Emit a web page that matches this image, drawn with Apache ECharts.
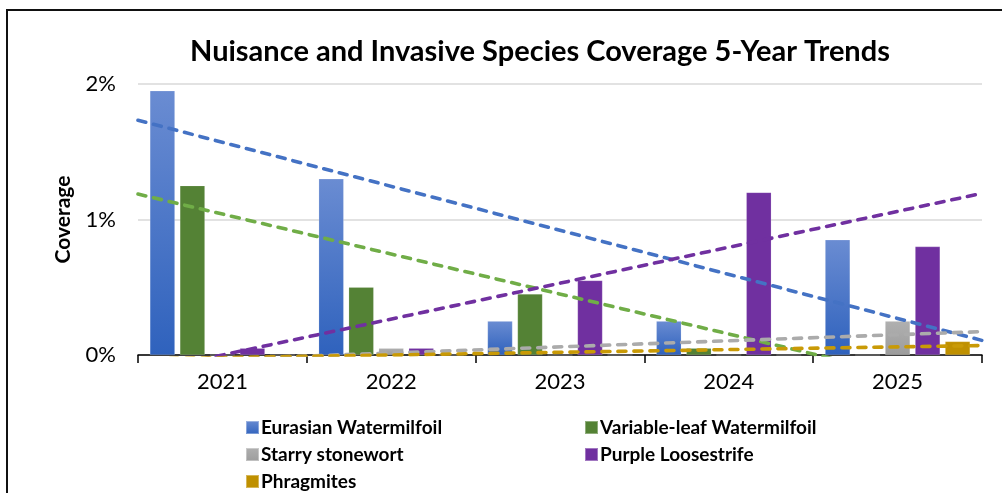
<!DOCTYPE html>
<html>
<head>
<meta charset="utf-8">
<script src="https://cdn.jsdelivr.net/npm/echarts@6/dist/echarts.min.js"></script>
<style>
  html, body { margin: 0; padding: 0; background: #fff; }
  #frame { position: absolute; left: 6px; top: 9px; right: -4px; bottom: -4px; border-left: 2px solid #111; border-top: 2px solid #111; }
  #chart { width: 1002px; height: 493px; }
</style>
</head>
<body>
<div id="chart"></div>
<div id="frame"></div>
<script>
// ---------- data (coverage, %) ----------
const years = ["2021", "2022", "2023", "2024", "2025"];
const eurasian = [1.95, 1.3, 0.25, 0.25, 0.85];
const variableLeaf = [1.25, 0.5, 0.45, 0.05, 0];
const starry = [0, 0.05, 0, 0, 0.25];
const purple = [0.05, 0.05, 0.55, 1.2, 0.8];
const phragmites = [0, 0, 0, 0, 0.1];
const yTicks = [0, 1, 2];

const FONT = "Lato, 'Open Sans', sans-serif";

const grad = (top, bottom) => new echarts.graphic.LinearGradient(0, 0, 0, 1, [
  { offset: 0, color: top }, { offset: 1, color: bottom }]);

const species = [
  { name: "Eurasian Watermilfoil", data: eurasian, color: grad("#6A8CD2", "#2F62BD"), trend: "#4472C4" },
  { name: "Variable-leaf Watermilfoil", data: variableLeaf, color: "#548235", trend: "#70AD47" },
  { name: "Starry stonewort", data: starry, color: grad("#B0B0B0", "#9C9C9C"), trend: "#ABABAB" },
  { name: "Purple Loosestrife", data: purple, color: "#7030A0", trend: "#7030A0" },
  { name: "Phragmites", data: phragmites, color: "#BF9000", trend: "#C99A06" },
];

// linear trendline (least squares over x = 1..n), drawn across the full plot width
function trendline(vals) {
  const n = vals.length, xs = vals.map((_, i) => i + 1);
  const mx = xs.reduce((a, b) => a + b, 0) / n, my = vals.reduce((a, b) => a + b, 0) / n;
  let sxy = 0, sxx = 0;
  xs.forEach((x, i) => { sxy += (x - mx) * (vals[i] - my); sxx += (x - mx) ** 2; });
  const k = sxy / sxx, b = my - k * mx;
  return [[0.5, k * 0.5 + b], [n + 0.5, k * (n + 0.5) + b]];
}

const chart = echarts.init(document.getElementById("chart"));

const bars = species.map(s => ({
  name: s.name, type: "bar", data: s.data,
  barWidth: 25, barGap: "20%",
  itemStyle: { color: s.color, borderColor: "rgba(255,255,255,0.35)", borderWidth: 0.5 },
  z: 2,
}));

const trends = species.map(s => ({
  name: s.name + " trend", type: "line", xAxisIndex: 1,
  data: trendline(s.data), showSymbol: false, silent: true, clip: true,
  lineStyle: { color: s.trend, width: 3.6, type: [8, 8], cap: "round" },
  z: 5,
}));

const legendText = { fontFamily: FONT, fontSize: 19, fontWeight: "bold", color: "#000", padding: [0, 0, 0, -3] };

chart.setOption({
  animation: false,
  textStyle: { fontFamily: FONT },
  title: {
    text: "Nuisance and Invasive Species Coverage 5-Year Trends",
    left: 535, top: 32, textAlign: "center",
    textStyle: { fontFamily: FONT, fontSize: 29, fontWeight: "bold", color: "#000" },
  },
  grid: { left: 138, right: 20, top: 84, bottom: 138 },
  legend: [
    { data: ["Eurasian Watermilfoil", "Starry stonewort", "Phragmites"], orient: "vertical",
      left: 240, top: 413, height: 90, itemGap: 8, itemWidth: 13, itemHeight: 13, icon: "rect",
      textStyle: legendText },
    { data: ["Variable-leaf Watermilfoil", "Purple Loosestrife"], orient: "vertical",
      left: 579, top: 413, height: 90, itemGap: 8, itemWidth: 13, itemHeight: 13, icon: "rect",
      textStyle: legendText },
  ],
  xAxis: [
    { type: "category", data: years,
      axisLine: { lineStyle: { color: "#000", width: 1.5 } },
      axisTick: { show: true, length: 8, lineStyle: { color: "#000", width: 1.5 } },
      axisLabel: { fontFamily: FONT, fontSize: 22, color: "#000", margin: 16 } },
    { type: "value", min: 0.5, max: 5.5, show: false },
  ],
  yAxis: {
    type: "value", min: yTicks[0], max: yTicks[yTicks.length - 1], interval: 1,
    name: "Coverage", nameLocation: "middle", nameGap: 64, nameRotate: 90,
    nameTextStyle: { fontFamily: FONT, fontSize: 21, fontWeight: "bold", color: "#000" },
    axisLine: { show: false }, axisTick: { show: false },
    axisLabel: { fontFamily: FONT, fontSize: 22, color: "#000", margin: 22, formatter: "{value}%" },
    splitLine: { lineStyle: { color: "#D9D9D9", width: 1.5 } },
  },
  series: [...bars, ...trends],
});
</script>
</body>
</html>
